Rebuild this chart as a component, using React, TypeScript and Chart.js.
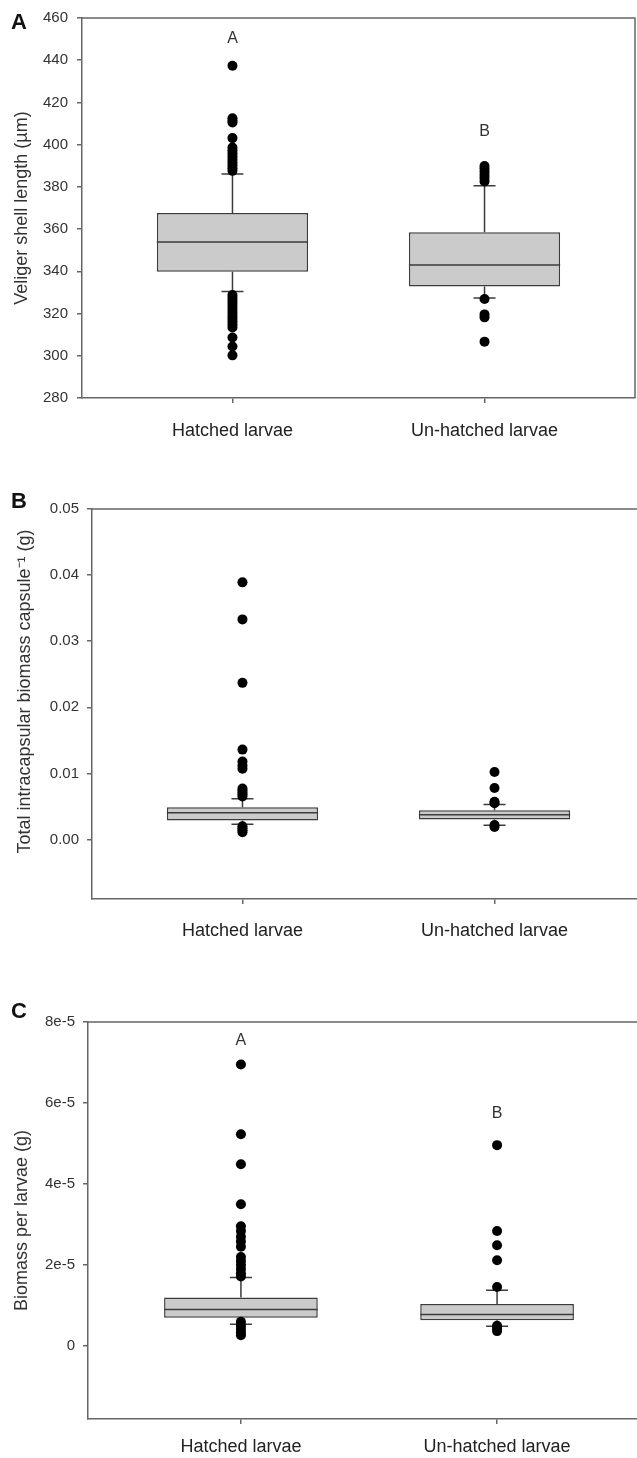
import React, { useEffect, useRef } from 'react';
import { Chart, registerables } from 'chart.js';

Chart.register(...registerables);
Chart.defaults.font.family = '"Liberation Sans", Arial, Helvetica, sans-serif';

// ---------- shared categories ----------
const CATEGORIES = ['Hatched larvae', 'Un-hatched larvae'];
const X_POS = [1, 2];

// ---------- Panel A: veliger shell length (µm) ----------
const A_Q1 = [339.8, 332.8];
const A_MEDIAN = [353.9, 343.0];
const A_Q3 = [367.6, 358.5];
const A_WHISKER_LOW = [330.5, 327.4];
const A_WHISKER_HIGH = [386.1, 380.5];
const A_OUTLIERS_HATCHED = [
  437.4, 412.5, 411.4, 410.5, 403.1, 398.6, 397.2, 395.8, 394.4, 393.0, 391.6, 390.2, 388.8, 387.6,
  328.8, 327.4, 326.0, 324.6, 323.2, 321.8, 320.4, 319.0, 317.6, 316.2, 314.8, 313.4, 308.7, 304.4, 300.2,
];
const A_OUTLIERS_UNHATCHED = [389.9, 388.6, 387.2, 385.6, 384.2, 382.6, 326.9, 319.6, 318.2, 306.7];
const A_TICKS = [280, 300, 320, 340, 360, 380, 400, 420, 440, 460];
const A_TICK_LABELS = ['280', '300', '320', '340', '360', '380', '400', '420', '440', '460'];
const A_SIG_LETTERS = ['A', 'B'];
const A_SIG_Y = [450.2, 406.3];

// ---------- Panel B: total intracapsular biomass per capsule (g) ----------
const B_Q1 = [0.00287, 0.00302];
const B_MEDIAN = [0.00403, 0.00373];
const B_Q3 = [0.00489, 0.00443];
const B_WHISKER_LOW = [0.00232, 0.00217];
const B_WHISKER_HIGH = [0.00615, 0.0053];
const B_OUTLIERS_HATCHED = [
  0.0389, 0.0333, 0.0237, 0.0136, 0.0118, 0.0112, 0.0107, 0.0077, 0.0074, 0.0071, 0.0068, 0.0065,
  0.002, 0.0017, 0.0014, 0.0011,
];
const B_OUTLIERS_UNHATCHED = [0.0102, 0.0078, 0.0057, 0.0055, 0.0022, 0.0019];
const B_TICKS = [0, 0.01, 0.02, 0.03, 0.04, 0.05];
const B_TICK_LABELS = ['0.00', '0.01', '0.02', '0.03', '0.04', '0.05'];
const B_SIG_LETTERS: string[] = [];
const B_SIG_Y: number[] = [];

// ---------- Panel C: biomass per larvae (g) ----------
const C_Q1 = [0.7e-5, 0.64e-5];
const C_MEDIAN = [0.905e-5, 0.78e-5];
const C_Q3 = [1.2e-5, 1.04e-5];
const C_WHISKER_LOW = [0.54e-5, 0.49e-5];
const C_WHISKER_HIGH = [1.69e-5, 1.38e-5];
const C_OUTLIERS_HATCHED = [
  6.95e-5, 5.23e-5, 4.49e-5, 3.5e-5, 2.96e-5, 2.84e-5, 2.7e-5, 2.58e-5, 2.45e-5, 2.2e-5, 2.1e-5,
  2.0e-5, 1.9e-5, 1.8e-5, 1.72e-5, 0.6e-5, 0.5e-5, 0.42e-5, 0.34e-5, 0.27e-5,
];
const C_OUTLIERS_UNHATCHED = [4.96e-5, 2.84e-5, 2.49e-5, 2.12e-5, 1.46e-5, 0.5e-5, 0.44e-5, 0.37e-5];
const C_TICKS = [0, 2e-5, 4e-5, 6e-5, 8e-5];
const C_TICK_LABELS = ['0', '2e-5', '4e-5', '6e-5', '8e-5'];
const C_SIG_LETTERS = ['A', 'B'];
const C_SIG_Y = [7.55e-5, 5.74e-5];

// ---------- styling ----------
const AXIS_COLOR = '#666666';
const BOX_BORDER = '#3c3c3c';
const BOX_FILL = '#cbcbcb';
const TEXT_COLOR = '#333333';
const X_MIN = 0.403;
const X_MAX = 2.597;

type PanelCfg = {
  id: string;
  letter: string;
  title: string;
  titlePad: number;
  q1: number[]; med: number[]; q3: number[]; wLo: number[]; wHi: number[];
  outH: number[]; outU: number[];
  ticks: number[]; tickLabels: string[];
  sigLetters: string[]; sigY: number[];
  yMin: number; yMax: number;
  top: number; w: number; h: number;
  areaLeft: number; areaTop: number; areaBottom: number; areaRight: number;
  xLabelPad: number; yLabelPad: number;
  letterY: number;
};

const PANELS: PanelCfg[] = [
  {
    id: 'A', letter: 'A', title: 'Veliger shell length (µm)', titlePad: 11,
    q1: A_Q1, med: A_MEDIAN, q3: A_Q3, wLo: A_WHISKER_LOW, wHi: A_WHISKER_HIGH,
    outH: A_OUTLIERS_HATCHED, outU: A_OUTLIERS_UNHATCHED,
    ticks: A_TICKS, tickLabels: A_TICK_LABELS, sigLetters: A_SIG_LETTERS, sigY: A_SIG_Y,
    yMin: 280, yMax: 460,
    top: 0, w: 640, h: 470, areaLeft: 82, areaTop: 12, areaBottom: 398, areaRight: 636,
    xLabelPad: 17, yLabelPad: 9, letterY: 23,
  },
  {
    id: 'B', letter: 'B',
    title: '\u00a0\u00a0\u00a0\u00a0\u00a0Total intracapsular biomass capsule\u207b\u00b9 (g)', titlePad: 14,
    q1: B_Q1, med: B_MEDIAN, q3: B_Q3, wLo: B_WHISKER_LOW, wHi: B_WHISKER_HIGH,
    outH: B_OUTLIERS_HATCHED, outU: B_OUTLIERS_UNHATCHED,
    ticks: B_TICKS, tickLabels: B_TICK_LABELS, sigLetters: B_SIG_LETTERS, sigY: B_SIG_Y,
    yMin: -0.009, yMax: 0.05,
    top: 480, w: 650, h: 480, areaLeft: 92, areaTop: 29, areaBottom: 419, areaRight: 647,
    xLabelPad: 16, yLabelPad: 8, letterY: 22,
  },
  {
    id: 'C', letter: 'C', title: 'Biomass per larvae (g)', titlePad: 11,
    q1: C_Q1, med: C_MEDIAN, q3: C_Q3, wLo: C_WHISKER_LOW, wHi: C_WHISKER_HIGH,
    outH: C_OUTLIERS_HATCHED, outU: C_OUTLIERS_UNHATCHED,
    ticks: C_TICKS, tickLabels: C_TICK_LABELS, sigLetters: C_SIG_LETTERS, sigY: C_SIG_Y,
    yMin: -1.8e-5, yMax: 8e-5,
    top: 960, w: 655, h: 498, areaLeft: 88, areaTop: 62, areaBottom: 459, areaRight: 651,
    xLabelPad: 12, yLabelPad: 8, letterY: 52,
  },
];

function makePlugin(p: PanelCfg) {
  return {
    id: 'boxExtras' + p.id,
    afterDatasetDraw(chart: any, args: any) {
      if (args.meta.type !== 'bar') return;
      const ctx = chart.ctx;
      const y = chart.scales.y;
      ctx.save();
      ctx.strokeStyle = BOX_BORDER;
      ctx.lineWidth = 1.5;
      args.meta.data.forEach((bar: any, i: number) => {
        const cx = bar.x;
        const half = bar.width / 2;
        const cap = 11;
        const pMed = y.getPixelForValue(p.med[i]);
        const pQ1 = y.getPixelForValue(p.q1[i]);
        const pQ3 = y.getPixelForValue(p.q3[i]);
        const pLo = y.getPixelForValue(p.wLo[i]);
        const pHi = y.getPixelForValue(p.wHi[i]);
        ctx.beginPath();
        ctx.moveTo(cx - half, pMed); ctx.lineTo(cx + half, pMed);
        ctx.moveTo(cx, pQ3); ctx.lineTo(cx, pHi);
        ctx.moveTo(cx - cap, pHi); ctx.lineTo(cx + cap, pHi);
        ctx.moveTo(cx, pQ1); ctx.lineTo(cx, pLo);
        ctx.moveTo(cx - cap, pLo); ctx.lineTo(cx + cap, pLo);
        ctx.stroke();
      });
      ctx.restore();
    },
    afterDraw(chart: any) {
      const ctx = chart.ctx;
      const a = chart.chartArea;
      ctx.save();
      ctx.strokeStyle = AXIS_COLOR;
      ctx.lineWidth = 1.5;
      ctx.beginPath();
      ctx.moveTo(a.left, a.top); ctx.lineTo(a.right, a.top); ctx.lineTo(a.right, a.bottom);
      ctx.stroke();
      // significance letters
      ctx.fillStyle = TEXT_COLOR;
      ctx.font = '16px "Liberation Sans", Arial, sans-serif';
      ctx.textAlign = 'center';
      ctx.textBaseline = 'middle';
      p.sigLetters.forEach((t, i) => {
        ctx.fillText(t, chart.scales.x.getPixelForValue(X_POS[i]), chart.scales.y.getPixelForValue(p.sigY[i]));
      });
      // panel letter
      ctx.fillStyle = '#111';
      ctx.font = 'bold 22px "Liberation Sans", Arial, sans-serif';
      ctx.textAlign = 'left';
      ctx.fillText(p.letter, 11, p.letterY);
      ctx.restore();
    },
  };
}

function buildConfig(p: PanelCfg): any {
  const outliers = [
    ...p.outH.map((v) => ({ x: X_POS[0], y: v })),
    ...p.outU.map((v) => ({ x: X_POS[1], y: v })),
  ];
  return {
    type: 'bar',
    data: {
      datasets: [
        {
          type: 'bar',
          data: X_POS.map((x, i) => ({ x, y: [p.q1[i], p.q3[i]] })),
          backgroundColor: BOX_FILL,
          borderColor: BOX_BORDER,
          borderWidth: 1.5,
          borderSkipped: false,
          barPercentage: 0.6,
          categoryPercentage: 1,
          order: 2,
        },
        {
          type: 'scatter',
          data: outliers,
          pointRadius: 5,
          pointBackgroundColor: '#000',
          pointBorderWidth: 0,
          order: 1,
        },
      ],
    },
    options: {
      responsive: false,
      animation: false,
      events: [],
      layout: { padding: { left: 0, top: p.areaTop, right: p.w - p.areaRight, bottom: 0 } },
      plugins: { legend: { display: false }, tooltip: { enabled: false } },
      scales: {
        x: {
          type: 'linear',
          min: X_MIN,
          max: X_MAX,
          offset: false,
          afterBuildTicks: (ax: any) => { ax.ticks = X_POS.map((v) => ({ value: v })); },
          afterFit: (ax: any) => { ax.height = p.h - p.areaBottom; },
          ticks: {
            autoSkip: false,
            maxRotation: 0,
            padding: p.xLabelPad,
            color: '#222',
            font: { size: 18 },
            callback: (v: number) => CATEGORIES[X_POS.indexOf(v)] ?? '',
          },
          grid: { offset: false, drawOnChartArea: false, drawTicks: true, tickLength: 5, color: AXIS_COLOR, lineWidth: 1.5 },
          border: { display: true, color: AXIS_COLOR, width: 1.5 },
        },
        y: {
          type: 'linear',
          min: p.yMin,
          max: p.yMax,
          beginAtZero: false,
          afterBuildTicks: (ax: any) => { ax.ticks = p.ticks.map((v) => ({ value: v })); },
          afterFit: (ax: any) => { ax.width = p.areaLeft; },
          ticks: {
            padding: p.yLabelPad,
            color: TEXT_COLOR,
            font: { size: 15 },
            callback: (_v: number, i: number) => p.tickLabels[i],
          },
          title: {
            display: true,
            text: p.title,
            color: TEXT_COLOR,
            font: { size: 18 },
            padding: { top: p.titlePad, bottom: 0 },
          },
          grid: { drawOnChartArea: false, drawTicks: true, tickLength: 5, color: AXIS_COLOR, lineWidth: 1.5 },
          border: { display: true, color: AXIS_COLOR, width: 1.5 },
        },
      },
    },
    plugins: [makePlugin(p)],
  };
}

function Panel({ cfg }: { cfg: PanelCfg }) {
  const ref = useRef<HTMLCanvasElement>(null);
  useEffect(() => {
    const chart = new Chart(ref.current as HTMLCanvasElement, buildConfig(cfg));
    return () => chart.destroy();
  }, [cfg]);
  return (
    <canvas
      ref={ref}
      width={cfg.w}
      height={cfg.h}
      style={{ position: 'absolute', left: 0, top: cfg.top, width: cfg.w, height: cfg.h }}
    />
  );
}

export default function App() {
  return (
    <div
      style={{
        position: 'absolute', left: 0, top: 0, width: 637, height: 1458,
        overflow: 'hidden', background: '#ffffff',
      }}
    >
      {PANELS.map((p) => (
        <Panel key={p.id} cfg={p} />
      ))}
    </div>
  );
}
